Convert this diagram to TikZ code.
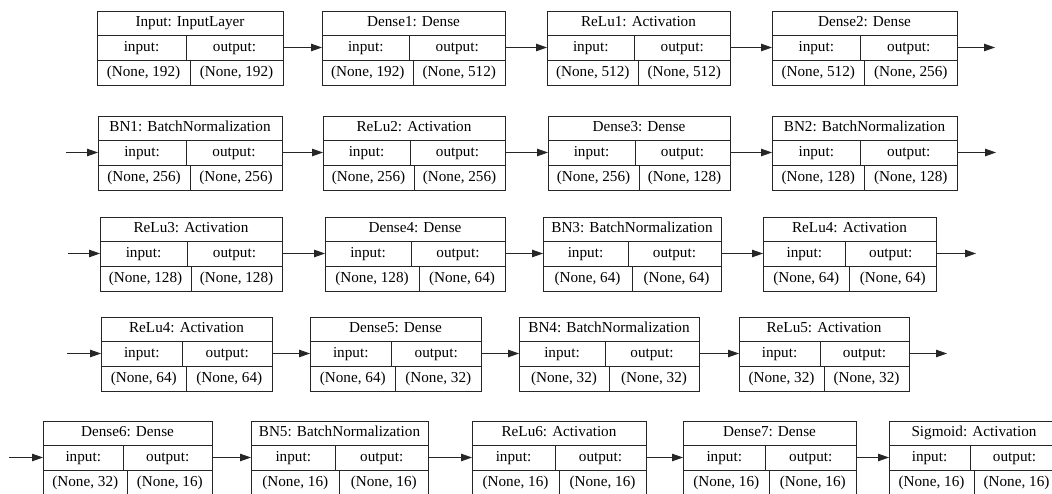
\documentclass[tikz,border=0pt]{standalone}
\usepackage{fontspec}
\setmainfont{Liberation Serif}
\usetikzlibrary{positioning,calc,arrows.meta}

\tikzset{
  cell/.style={draw=black!85, line width=0.9pt, rectangle, inner sep=0pt, outer sep=0pt},
  split/.style={draw=black!85, line width=0.9pt},
  celltext/.style={inner sep=0pt, text height=10.5pt, text depth=3.2pt, font=\fontsize{15.2}{18}\selectfont},
  flow/.style={draw=black!85, line width=0.9pt, -{Triangle[length=11pt,width=7.5pt]}},
}

% #1 name, #2 left, #3 top, #4 width, #5 title, #6 shape in, #7 shape out, #8 shift of lower split
\newcommand{\layerbox}[8]{%
  \node[cell, anchor=north west, minimum width=#4pt, minimum height=24pt] (#1-t) at (#2,#3) {};
  \node[celltext] (#1-name) at (#1-t.center) {#5};
  \node[cell, anchor=north, minimum width=#4pt, minimum height=25pt] (#1) at (#1-t.south) {};
  \node[cell, anchor=north, minimum width=#4pt, minimum height=25pt] (#1-v) at (#1.south) {};
  \draw[split] ($(#1.north)+(-4,0)$) -- ($(#1.south)+(-4,0)$);
  \draw[split] ($(#1-v.north)+(#8,0)$) -- ($(#1-v.south)+(#8,0)$);
  \node[celltext] (#1-in) at ($(#1.west)+(#4/4-2,0)$) {input:};
  \node[celltext] (#1-out) at ($(#1.west)+(3*#4/4-2,0)$) {output:};
  \node[celltext] (#1-vin) at ($(#1-v.west)+(#4/4+#8/2,0)$) {#6};
  \node[celltext] (#1-vout) at ($(#1-v.west)+(3*#4/4+#8/2,0)$) {#7};
}

\begin{document}
\begin{tikzpicture}[x=1pt,y=-1pt]
  \path[use as bounding box, fill=white] (0,0) rectangle (1052,494);
  \clip (0,0) rectangle (1052,494);

  % row 1
  \layerbox{input}{97}{11}{186}{Input: InputLayer}{(None, 192)}{(None, 192)}{0}
  \layerbox{dense1}{322}{11}{183}{Dense1: Dense}{(None, 192)}{(None, 512)}{0}
  \layerbox{relu1}{547}{11}{183}{ReLu1: Activation}{(None, 512)}{(None, 512)}{0}
  \layerbox{dense2}{772}{11}{185}{Dense2: Dense}{(None, 512)}{(None, 256)}{0}
  \coordinate[right=38pt of dense2] (dense2-next);
  \draw[flow] (input) -- (dense1);
  \draw[flow] (dense1) -- (relu1);
  \draw[flow] (relu1) -- (dense2);
  \draw[flow] (dense2) -- (dense2-next);

  % row 2
  \layerbox{bn1}{98}{116}{184}{BN1: BatchNormalization}{(None, 256)}{(None, 256)}{0}
  \layerbox{relu2}{323}{116}{182}{ReLu2: Activation}{(None, 256)}{(None, 256)}{0}
  \layerbox{dense3}{548}{116}{182}{Dense3: Dense}{(None, 256)}{(None, 128)}{0}
  \layerbox{bn2}{772}{116}{185}{BN2: BatchNormalization}{(None, 128)}{(None, 128)}{0}
  \coordinate[left=32pt of bn1] (bn1-prev);
  \coordinate[right=39pt of bn2] (bn2-next);
  \draw[flow] (bn1-prev) -- (bn1);
  \draw[flow] (bn1) -- (relu2);
  \draw[flow] (relu2) -- (dense3);
  \draw[flow] (dense3) -- (bn2);
  \draw[flow] (bn2) -- (bn2-next);

  % row 3
  \layerbox{relu3}{100}{217}{182}{ReLu3: Activation}{(None, 128)}{(None, 128)}{0}
  \layerbox{dense4}{325}{217}{180}{Dense4: Dense}{(None, 128)}{(None, 64)}{4}
  \layerbox{bn3}{543}{217}{178}{BN3: BatchNormalization}{(None, 64)}{(None, 64)}{0}
  \layerbox{relu4}{763}{217}{173}{ReLu4: Activation}{(None, 64)}{(None, 64)}{0}
  \coordinate[left=32pt of relu3] (relu3-prev);
  \coordinate[right=40pt of relu4] (relu4-next);
  \draw[flow] (relu3-prev) -- (relu3);
  \draw[flow] (relu3) -- (dense4);
  \draw[flow] (dense4) -- (bn3);
  \draw[flow] (bn3) -- (relu4);
  \draw[flow] (relu4) -- (relu4-next);

  % row 4
  \layerbox{relu4b}{101}{317}{171}{ReLu4: Activation}{(None, 64)}{(None, 64)}{0}
  \layerbox{dense5}{310}{317}{171}{Dense5: Dense}{(None, 64)}{(None, 32)}{0}
  \layerbox{bn4}{519}{317}{180}{BN4: BatchNormalization}{(None, 32)}{(None, 32)}{0}
  \layerbox{relu5}{739}{317}{170}{ReLu5: Activation}{(None, 32)}{(None, 32)}{0}
  \coordinate[left=34pt of relu4b] (relu4b-prev);
  \coordinate[right=38pt of relu5] (relu5-next);
  \draw[flow] (relu4b-prev) -- (relu4b);
  \draw[flow] (relu4b) -- (dense5);
  \draw[flow] (dense5) -- (bn4);
  \draw[flow] (bn4) -- (relu5);
  \draw[flow] (relu5) -- (relu5-next);

  % row 5
  \layerbox{dense6}{43}{421}{169}{Dense6: Dense}{(None, 32)}{(None, 16)}{0}
  \layerbox{bn5}{251}{421}{177}{BN5: BatchNormalization}{(None, 16)}{(None, 16)}{0}
  \layerbox{relu6}{472}{421}{174}{ReLu6: Activation}{(None, 16)}{(None, 16)}{0}
  \layerbox{dense7}{683}{421}{173}{Dense7: Dense}{(None, 16)}{(None, 16)}{0}
  \layerbox{sigmoid}{889}{421}{170}{Sigmoid: Activation}{(None, 16)}{(None, 16)}{0}
  \coordinate[left=34pt of dense6] (dense6-prev);
  \draw[flow] (dense6-prev) -- (dense6);
  \draw[flow] (dense6) -- (bn5);
  \draw[flow] (bn5) -- (relu6);
  \draw[flow] (relu6) -- (dense7);
  \draw[flow] (dense7) -- (sigmoid);
\end{tikzpicture}
\end{document}
